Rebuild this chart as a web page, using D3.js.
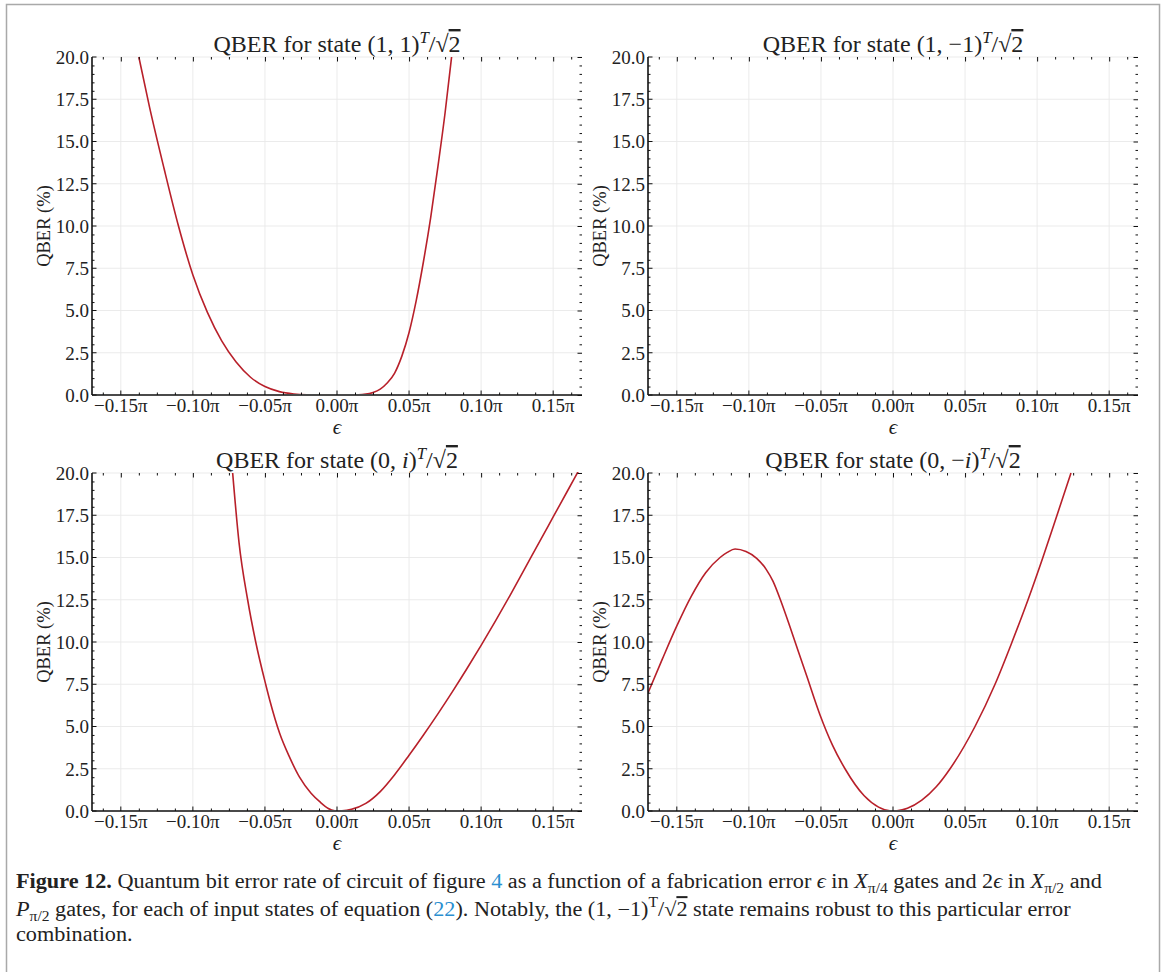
<!DOCTYPE html>
<html>
<head>
<meta charset="utf-8">
<script src="https://cdn.jsdelivr.net/npm/d3@7"></script>
<style>
body { margin: 0; background: #fff; }
svg text { font-family: "Liberation Serif", "DejaVu Serif", serif; fill: #222; }
</style>
</head>
<body>
<div id="chart-area"></div>
<script>
var width = 1167;
var height = 972;

// epsilon is given in units of pi
var xTickValues = [-0.15, -0.10, -0.05, 0.00, 0.05, 0.10, 0.15];
var xTickLabels = ["−0.15π", "−0.10π", "−0.05π", "0.00π", "0.05π", "0.10π", "0.15π"];
var yTickValues = [0, 2.5, 5, 7.5, 10, 12.5, 15, 17.5, 20];
var yTickLabels = ["0.0", "2.5", "5.0", "7.5", "10.0", "12.5", "15.0", "17.5", "20.0"];

// state (1,1)/sqrt2
var eps11  = [-0.1375, -0.13, -0.12, -0.11, -0.10, -0.09, -0.08, -0.07, -0.06, -0.05, -0.04, -0.03, -0.02, -0.01, 0.0, 0.01, 0.02, 0.025, 0.03, 0.035, 0.04, 0.045, 0.05, 0.055, 0.06, 0.065, 0.07, 0.075, 0.0795];
var qber11 = [20, 17.0, 13.4, 10.0, 7.1, 4.9, 3.2, 1.95, 1.05, 0.5, 0.2, 0.06, 0.01, 0, 0, 0, 0.05, 0.15, 0.35, 0.72, 1.3, 2.3, 3.7, 5.6, 7.9, 10.5, 13.5, 16.7, 20];

// state (1,-1)/sqrt2 : robust, stays at zero
var eps1m1  = [-0.17, -0.10, 0.0, 0.10, 0.17];
var qber1m1 = [0, 0, 0, 0, 0];

// state (0,i)/sqrt2
var eps0i  = [-0.0724, -0.068, -0.062, -0.0564, -0.0495, -0.0467, -0.0398, -0.033, -0.026, -0.018, -0.012, -0.006, 0, 0.01, 0.02, 0.03, 0.04, 0.05, 0.06, 0.07, 0.08, 0.09, 0.10, 0.11, 0.12, 0.13, 0.14, 0.15, 0.16, 0.17];
var qber0i = [20, 15.9, 12.5, 10.0, 7.5, 6.57, 4.6, 3.2, 2.0, 1.05, 0.55, 0.15, 0, 0.1, 0.45, 1.15, 2.15, 3.3, 4.5, 5.75, 7.05, 8.4, 9.8, 11.25, 12.75, 14.3, 15.85, 17.4, 18.95, 20.5];

// state (0,-i)/sqrt2
var eps0mi  = [-0.170, -0.16, -0.15, -0.14, -0.13, -0.12, -0.115, -0.1096, -0.102, -0.0946, -0.088, -0.0833, -0.0775, -0.0715, -0.0655, -0.0599, -0.0507, -0.042, -0.0333, -0.02, -0.01, 0, 0.01, 0.02, 0.03, 0.0396, 0.0569, 0.0708, 0.0826, 0.0937, 0.104, 0.1138, 0.1235];
var qber0mi = [6.98, 9.0, 10.95, 12.7, 14.1, 15.0, 15.3, 15.5, 15.35, 14.95, 14.3, 13.6, 12.35, 10.9, 9.4, 8.0, 5.7, 3.9, 2.5, 0.9, 0.23, 0, 0.16, 0.64, 1.43, 2.5, 5.0, 7.5, 10.0, 12.5, 15.0, 17.5, 20];

var lineColor = "#b8202a";
var linkColor = "#2a8fd0";

var svg = d3.select("#chart-area").append("svg")
    .attr("width", width)
    .attr("height", height);

svg.append("rect")
    .attr("x", 0).attr("y", 0)
    .attr("width", width).attr("height", height)
    .attr("fill", "white");

svg.append("rect")
    .attr("x", 6.5).attr("y", 4.5)
    .attr("width", 1153).attr("height", 1000)
    .attr("fill", "none")
    .attr("stroke", "#a9a9a9")
    .attr("stroke-width", 1.5);

// writes a list of text pieces into a text element (sub/superscripts, italics, colour)
function addSegments(text, segs, bigSize) {
    var shift = 0;
    segs.forEach((s) => {
        var want = s.sub ? 5 : (s.sup ? -9 : 0);
        var ts = text.append("tspan").text(s.t);
        if (want !== shift) ts.attr("dy", want - shift);
        shift = want;
        if (s.sub || s.sup) ts.attr("font-size", bigSize * 0.7);
        if (s.it) ts.attr("font-style", "italic");
        if (s.b) ts.attr("font-weight", "bold");
        if (s.c) ts.style("fill", s.c);
        if (s.over) ts.style("text-decoration", "overline");
    });
}

var panels = [
    { eps: eps11, qber: qber11, left: 92, top: 57,
      title: [{t: "QBER for state (1, 1)"}, {t: "T", sup: true, it: true}, {t: "/√"}, {t: "2", over: true}] },
    { eps: eps1m1, qber: qber1m1, left: 648, top: 57,
      title: [{t: "QBER for state (1, −1)"}, {t: "T", sup: true, it: true}, {t: "/√"}, {t: "2", over: true}] },
    { eps: eps0i, qber: qber0i, left: 92, top: 473,
      title: [{t: "QBER for state (0, "}, {t: "i", it: true}, {t: ")"}, {t: "T", sup: true, it: true}, {t: "/√"}, {t: "2", over: true}] },
    { eps: eps0mi, qber: qber0mi, left: 648, top: 473,
      title: [{t: "QBER for state (0, −"}, {t: "i", it: true}, {t: ")"}, {t: "T", sup: true, it: true}, {t: "/√"}, {t: "2", over: true}] }
];

var pw = 490;
var ph = 338;
var xMinor = d3.range(-0.1625, 0.17, 0.0125).filter((v) => Math.abs(Math.round(v / 0.05) * 0.05 - v) > 1e-6);
var yMinor = d3.range(0, 20.01, 0.5).filter((v) => Math.abs(v / 2.5 - Math.round(v / 2.5)) > 1e-6);

panels.forEach((p, pi) => {
    var g = svg.append("g").attr("transform", "translate(" + p.left + "," + p.top + ")");

    var x = d3.scaleLinear().domain([-0.17, 0.17]).range([0, pw]);
    var y = d3.scaleLinear().domain([0, 20]).range([ph, 0]);

    // grid
    g.selectAll(".gx").data(xTickValues).enter().append("line")
        .attr("x1", (d) => x(d)).attr("x2", (d) => x(d))
        .attr("y1", 0).attr("y2", ph)
        .attr("stroke", "#e9e9e9").attr("stroke-width", 0.9);
    g.selectAll(".gy").data(yTickValues).enter().append("line")
        .attr("x1", 0).attr("x2", pw)
        .attr("y1", (d) => y(d)).attr("y2", (d) => y(d))
        .attr("stroke", "#e9e9e9").attr("stroke-width", 0.9);

    // curve (the part lying on zero hides under the bottom spine)
    g.append("clipPath").attr("id", "clip" + pi)
        .append("rect").attr("x", 0).attr("y", -1).attr("width", pw).attr("height", ph + 0.1);

    var line = d3.line()
        .x((d, i) => x(p.eps[i]))
        .y((d) => y(d))
        .curve(d3.curveMonotoneX);

    g.append("path")
        .datum(p.qber)
        .attr("clip-path", "url(#clip" + pi + ")")
        .attr("d", line)
        .attr("fill", "none")
        .attr("stroke", lineColor)
        .attr("stroke-width", 1.6);

    // minor ticks on all four sides
    g.append("g").attr("transform", "translate(0," + ph + ")")
        .call(d3.axisBottom(x).tickValues(xMinor).tickFormat("").tickSizeInner(-2.5).tickSizeOuter(0));
    g.append("g")
        .call(d3.axisTop(x).tickValues(xMinor).tickFormat("").tickSizeInner(-2.5).tickSizeOuter(0));
    g.append("g")
        .call(d3.axisLeft(y).tickValues(yMinor).tickFormat("").tickSizeInner(-2.5).tickSizeOuter(0));
    g.append("g").attr("transform", "translate(" + pw + ",0)")
        .call(d3.axisRight(y).tickValues(yMinor).tickFormat("").tickSizeInner(-2.5).tickSizeOuter(0));

    // major ticks top / right (no spine)
    g.append("g")
        .call(d3.axisTop(x).tickValues(xTickValues).tickFormat("").tickSizeInner(-4.5).tickSizeOuter(0));
    g.append("g").attr("transform", "translate(" + pw + ",0)")
        .call(d3.axisRight(y).tickValues(yTickValues).tickFormat("").tickSizeInner(-4.5).tickSizeOuter(0));

    g.selectAll(".domain").remove();

    // labelled bottom / left axes
    var xAxis = g.append("g").attr("transform", "translate(0," + ph + ")")
        .call(d3.axisBottom(x).tickValues(xTickValues)
            .tickFormat((d, i) => xTickLabels[i])
            .tickSizeInner(-4.5).tickSizeOuter(0).tickPadding(4).offset(0));
    var yAxis = g.append("g")
        .call(d3.axisLeft(y).tickValues(yTickValues)
            .tickFormat((d, i) => yTickLabels[i])
            .tickSizeInner(-4.5).tickSizeOuter(0).tickPadding(3).offset(0));

    [xAxis, yAxis].forEach((a) => {
        a.attr("font-size", 19);
        a.select(".domain").attr("stroke", "#111").attr("stroke-width", 1.6);
    });
    yAxis.selectAll("text").attr("dy", "0.36em");
    g.selectAll(".tick line").attr("stroke", "#111").attr("stroke-width", 1);

    // titles and axis labels
    var title = g.append("text")
        .attr("x", pw / 2).attr("y", -5)
        .attr("text-anchor", "middle")
        .attr("font-size", 24);
    addSegments(title, p.title, 24);

    g.append("text")
        .attr("transform", "translate(" + (-42) + "," + (ph / 2) + ") rotate(-90)")
        .attr("text-anchor", "middle")
        .attr("font-size", 18.5)
        .text("QBER (%)");

    g.append("text")
        .attr("x", pw / 2).attr("y", ph + 39)
        .attr("text-anchor", "middle")
        .attr("font-size", 21)
        .attr("font-style", "italic")
        .text("ϵ");
});

// caption
var captionLines = [
    [{t: "Figure 12.", b: true}, {t: " Quantum bit error rate of circuit of figure "}, {t: "4", c: linkColor},
     {t: " as a function of a fabrication error "}, {t: "ϵ", it: true}, {t: " in "}, {t: "X", it: true}, {t: "π/4", sub: true},
     {t: " gates and 2"}, {t: "ϵ", it: true}, {t: " in "}, {t: "X", it: true}, {t: "π/2", sub: true}, {t: " and"}],
    [{t: "P", it: true}, {t: "π/2", sub: true}, {t: " gates, for each of input states of equation ("}, {t: "22", c: linkColor},
     {t: "). Notably, the (1, −1)"}, {t: "T", sup: true}, {t: "/√"}, {t: "2", over: true},
     {t: " state remains robust to this particular error"}],
    [{t: "combination."}]
];
var captionY = [888, 916, 941];

var cap = svg.append("g");
var capTexts = captionLines.map((segs, i) => {
    var t = cap.append("text")
        .attr("x", 0).attr("y", captionY[i])
        .attr("font-size", 20);
    addSegments(t, segs, 20);
    return t;
});
var len1 = capTexts[0].node().getComputedTextLength();
var f = 1087 / len1;
cap.attr("transform", "translate(16,0) scale(" + f + ",1)");
</script>
</body>
</html>
